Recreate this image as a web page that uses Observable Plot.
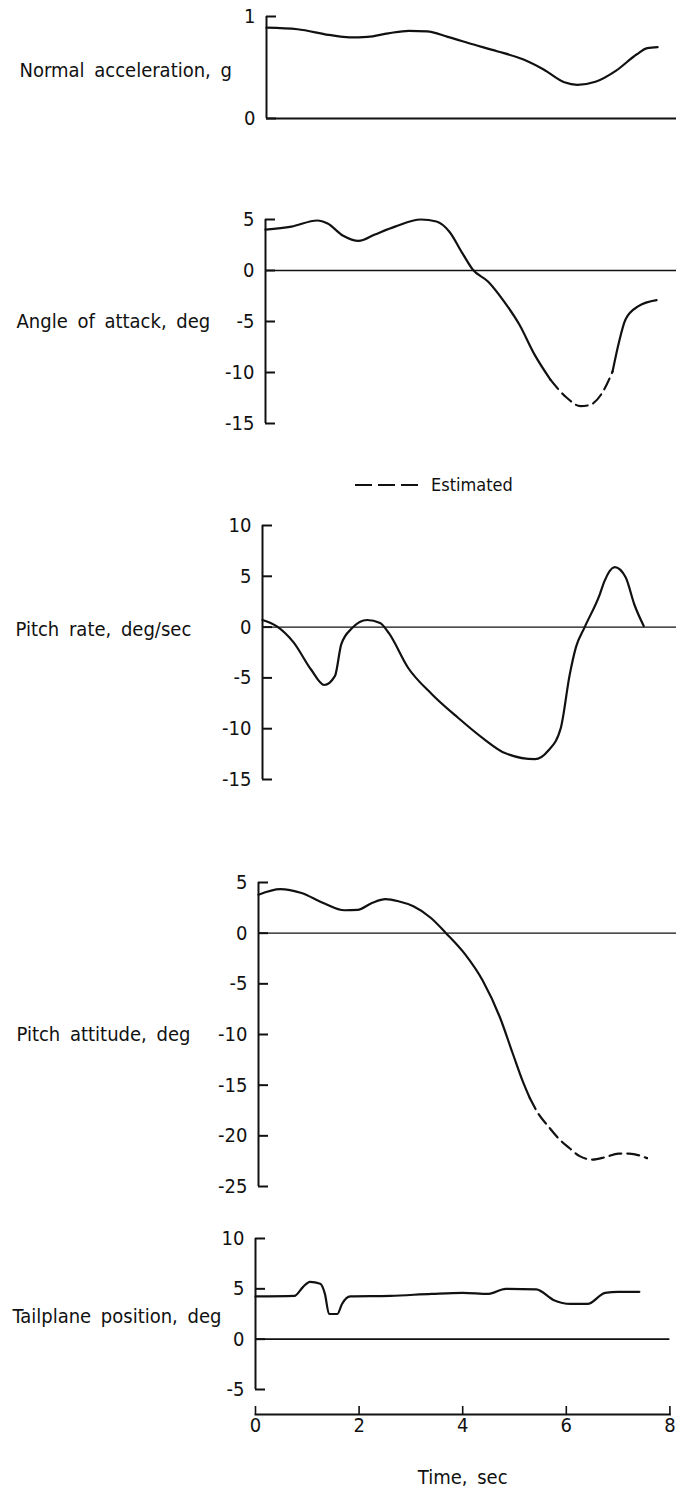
<!DOCTYPE html>
<html>
<head>
<meta charset="utf-8">
<script src="https://cdn.jsdelivr.net/npm/d3@7"></script>
<script src="https://cdn.jsdelivr.net/npm/@observablehq/plot@0.6"></script>
<style>
  body { margin: 0; background: #fff; }
  #figure {
    position: relative; width: 676px; height: 1489px; background: #fff; overflow: hidden;
    font-family: "DejaVu Sans Condensed", "Liberation Sans Narrow", "DejaVu Sans", sans-serif;
    color: #111;
  }
  #figure svg { position: absolute; left: 0; background: transparent !important; }
</style>
</head>
<body>
<div id="figure"></div>
<script>
// Shared time axis, seconds
const timeTicks = [0, 2, 4, 6, 8];

// Normal acceleration, g
const accelTime  = [0, 0.6, 1.2, 1.6, 1.95, 2.35, 2.75, 3.1, 3.5, 4.0, 4.45, 4.95, 5.35, 5.75, 6.0, 6.35, 6.75, 7.15, 7.35, 7.55];
const accelValue = [0.89, 0.875, 0.82, 0.795, 0.80, 0.835, 0.86, 0.855, 0.80, 0.725, 0.66, 0.58, 0.48, 0.355, 0.33, 0.36, 0.47, 0.63, 0.69, 0.70];
const accelTicks = [0, 1];

// Angle of attack, deg (estimated between 5.5 s and 6.7 s)
const alphaTime  = [0, 0.5, 1.0, 1.2, 1.5, 1.8, 2.1, 2.5, 3.0, 3.3, 3.55, 3.8, 4.0, 4.3, 4.6, 4.9, 5.2, 5.5, 5.8, 6.08, 6.25, 6.5, 6.7, 6.82, 6.95, 7.2, 7.55];
const alphaValue = [4.0, 4.3, 4.9, 4.6, 3.4, 2.9, 3.5, 4.3, 5.0, 4.8, 3.8, 1.7, 0.1, -1.1, -3.0, -5.3, -8.3, -10.7, -12.4, -13.3, -13.2, -12.0, -9.9, -7.1, -4.8, -3.5, -2.9];
const alphaEstimated = [5.5, 6.7];
const alphaTicks = [5, 0, -5, -10, -15];

// Pitch rate, deg/sec
const qTime  = [0, 0.27, 0.6, 0.94, 1.19, 1.4, 1.52, 1.73, 2.02, 2.27, 2.44, 2.81, 3.27, 3.77, 4.27, 4.68, 5.26, 5.51, 5.76, 5.93, 6.05, 6.22, 6.51, 6.6, 6.8, 7.01, 7.18, 7.36];
const qValue = [0.7, 0.1, -1.5, -4.2, -5.7, -4.8, -1.7, -0.1, 0.7, 0.4, -0.6, -4.0, -6.6, -8.9, -11.0, -12.4, -13.0, -12.2, -9.9, -4.7, -2.0, 0, 3.2, 4.5, 5.9, 4.9, 2.2, 0.1];
const qTicks = [10, 5, 0, -5, -10, -15];

// Pitch attitude, deg (estimated from 5.24 s on)
const thetaTime  = [0, 0.42, 0.83, 1.25, 1.66, 1.91, 2.2, 2.45, 2.7, 2.99, 3.33, 3.62, 3.99, 4.33, 4.66, 4.91, 5.1, 5.24, 5.4, 5.6, 5.82, 6.0, 6.2, 6.45, 6.7, 6.95, 7.15, 7.5];
const thetaValue = [3.8, 4.35, 3.96, 2.98, 2.26, 2.3, 3.0, 3.35, 3.15, 2.65, 1.5, 0, -2.1, -4.7, -8.3, -11.9, -14.6, -16.3, -17.8, -19.1, -20.4, -21.2, -22.0, -22.35, -22.1, -21.75, -21.75, -22.2];
const thetaEstimated = [5.24, 7.5];
const thetaTicks = [5, 0, -5, -10, -15, -20, -25];

// Tailplane position, deg
const tailTime  = [0, 0.75, 0.92, 1.05, 1.25, 1.34, 1.42, 1.58, 1.67, 1.83, 2.6, 3.4, 4.0, 4.5, 4.83, 5.42, 5.75, 6.08, 6.41, 6.75, 7.0, 7.41];
const tailValue = [4.25, 4.3, 5.2, 5.7, 5.5, 4.5, 2.5, 2.5, 3.5, 4.25, 4.3, 4.5, 4.6, 4.5, 5.0, 4.95, 3.9, 3.5, 3.5, 4.6, 4.7, 4.7];
const tailTicks = [10, 5, 0, -5];

const pxPerSecond = 51.8;
const fontFamily = '"DejaVu Sans Condensed", "Liberation Sans Narrow", "DejaVu Sans", sans-serif';
const fontStyle = {
  fontFamily,
  fontSize: "20px",
  wordSpacing: "4px",
  color: "#111",
  background: "transparent"
};

// Split a trace into measured (solid) and estimated (dashed) pieces; the
// boundary samples belong to both so the pieces join up.
function pieces(time, value, estimated) {
  const solid = [], dashed = [];
  time.forEach((t, i) => {
    const d = {t, v: value[i]};
    if (!estimated) { solid.push({...d, part: "a"}); return; }
    const [a, b] = estimated;
    if (t <= a) solid.push({...d, part: "a"});
    if (t >= b) solid.push({...d, part: "b"});
    if (t >= a && t <= b) dashed.push({...d, part: "e"});
  });
  return {solid, dashed};
}

const panels = [
  {label: "Normal acceleration, g", time: accelTime, value: accelValue, ticks: accelTicks,
   top: 0, height: 140, yTopPx: 16, yBottomPx: 118, axisX: 266, labelLeft: 19, labelAt: 0.47, zeroWidth: 2},
  {label: "Angle of attack, deg", time: alphaTime, value: alphaValue, ticks: alphaTicks, estimated: alphaEstimated,
   top: 190, height: 250, yTopPx: 219, yBottomPx: 423, axisX: 265, labelLeft: 16, labelAt: -5, zeroWidth: 1.3},
  {label: "Pitch rate, deg/sec", time: qTime, value: qValue, ticks: qTicks,
   top: 500, height: 300, yTopPx: 525, yBottomPx: 779, axisX: 262, labelLeft: 15, labelAt: -0.2, zeroWidth: 1.3},
  {label: "Pitch attitude, deg", time: thetaTime, value: thetaValue, ticks: thetaTicks, estimated: thetaEstimated,
   top: 860, height: 340, yTopPx: 882, yBottomPx: 1186, axisX: 258, labelLeft: 16, labelAt: -10, zeroWidth: 1.3},
  {label: "Tailplane position, deg", time: tailTime, value: tailValue, ticks: tailTicks,
   top: 1220, height: 269, yTopPx: 1238, yBottomPx: 1389, axisX: 255, labelLeft: 12, labelAt: 2.2, zeroWidth: 1.8,
   timeAxisPx: 1414}
];

const figure = document.getElementById("figure");

panels.forEach((p) => {
  const yMax = d3.max(p.ticks), yMin = d3.min(p.ticks);
  const {solid, dashed} = pieces(p.time, p.value, p.estimated);
  const withTimeAxis = p.timeAxisPx !== undefined;
  const xEnd = p.axisX + pxPerSecond * 8;
  const marginBottom = withTimeAxis ? p.top + p.height - p.timeAxisPx : 0;
  const marginRight = withTimeAxis ? 676 - xEnd : 0;

  const marks = [
    // zero line
    Plot.ruleY([0], {stroke: "#111", strokeWidth: p.zeroWidth}),
    // vertical axis spine
    Plot.ruleX([0], {y1: yMin, y2: yMax, stroke: "#111", strokeWidth: 2}),
    // inward tick marks
    Plot.axisY({ticks: p.ticks, fill: "none", tickSize: 10, dx: 10, strokeWidth: 2, stroke: "#111", label: null}),
    // tick labels
    Plot.axisY({ticks: p.ticks, tickSize: 0, tickPadding: 11, label: null, fill: "#111",
                tickFormat: (d) => String(d)}),
    // panel title at the left
    Plot.text([{label: p.label, y: p.labelAt}], {
      y: "y", text: "label", frameAnchor: "left", textAnchor: "start",
      lineAnchor: "middle", dx: p.labelLeft - p.axisX, fill: "#111"
    }),
    // measured trace
    Plot.line(solid, {x: "t", y: "v", z: "part", curve: "monotone-x",
                      stroke: "#111", strokeWidth: 2.2, strokeLinejoin: "round"})
  ];
  if (dashed.length) {
    marks.push(Plot.line(dashed, {x: "t", y: "v", curve: "monotone-x",
                                  stroke: "#111", strokeWidth: 2.2, strokeDasharray: "12,6"}));
  }
  if (withTimeAxis) {
    marks.push(
      Plot.frame({anchor: "bottom", stroke: "#111", strokeWidth: 2}),
      Plot.axisX({ticks: timeTicks, fill: "none", tickSize: 8, dy: -8, strokeWidth: 1.6, stroke: "#111", label: null}),
      Plot.axisX({ticks: timeTicks, tickSize: 0, tickPadding: 3, label: null, fill: "#111"}),
      Plot.text(["Time, sec"], {frameAnchor: "bottom", dy: 63, lineAnchor: "middle", fill: "#111"})
    );
  }

  const svg = Plot.plot({
    width: 676,
    height: p.height,
    marginLeft: p.axisX,
    marginRight,
    marginTop: 0,
    marginBottom,
    style: fontStyle,
    x: withTimeAxis
      ? {domain: [0, 8], range: [p.axisX, xEnd]}
      : {domain: [0, 8], range: [p.axisX, xEnd], axis: null},
    y: {domain: [yMin, yMax], range: [p.yBottomPx - p.top, p.yTopPx - p.top]},
    marks
  });
  svg.style.top = p.top + "px";
  figure.appendChild(svg);
});

// Legend for the estimated (dashed) portions
const legend = d3.select(figure).append("svg")
  .attr("width", 676).attr("height", 30)
  .style("top", "470px")
  .style("font-family", fontFamily)
  .style("font-size", "18px");
legend.append("line")
  .attr("x1", 355).attr("x2", 418).attr("y1", 15).attr("y2", 15)
  .attr("stroke", "#111").attr("stroke-width", 2).attr("stroke-dasharray", "17,6");
legend.append("text")
  .attr("x", 431).attr("y", 15).attr("dy", "0.35em")
  .attr("fill", "#111").text("Estimated");
</script>
</body>
</html>
